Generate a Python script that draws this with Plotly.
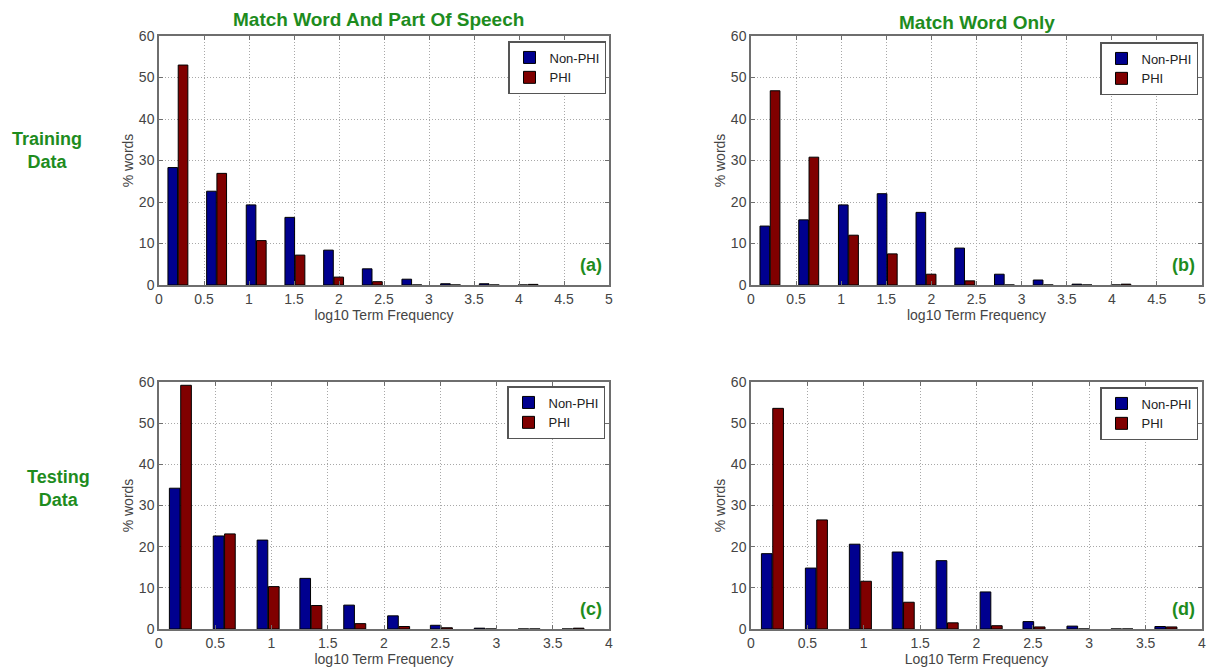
import plotly.graph_objects as go

# ---------------- data ----------------
# bin centres (log10 term frequency)
bins_train = [0.21, 0.64, 1.08, 1.51, 1.94, 2.37, 2.81, 3.24, 3.67, 4.10]
bins_test = [0.19, 0.58, 0.97, 1.35, 1.74, 2.13, 2.51, 2.90, 3.29, 3.68]

# (a) Training, match word and part of speech
a_nonphi = [28.3, 22.6, 19.3, 16.3, 8.4, 3.9, 1.4, 0.3, 0.3, 0.0]
a_phi = [53.0, 26.9, 10.7, 7.2, 1.9, 0.8, 0.0, 0.0, 0.0, 0.15]
# (b) Training, match word only
b_nonphi = [14.2, 15.7, 19.3, 22.0, 17.5, 8.9, 2.6, 1.2, 0.2, 0.0]
b_phi = [46.8, 30.8, 12.0, 7.5, 2.6, 1.0, 0.0, 0.0, 0.0, 0.2]
# (c) Testing, match word and part of speech
c_nonphi = [34.2, 22.6, 21.6, 12.3, 5.8, 3.2, 0.9, 0.2, 0.0, 0.0]
c_phi = [59.2, 23.1, 10.3, 5.7, 1.3, 0.6, 0.3, 0.0, 0.0, 0.2]
# (d) Testing, match word only
d_nonphi = [18.3, 14.8, 20.6, 18.7, 16.6, 9.0, 1.8, 0.7, 0.0, 0.6]
d_phi = [53.6, 26.5, 11.6, 6.5, 1.5, 0.8, 0.5, 0.0, 0.0, 0.5]

series_names = ["Non-PHI", "PHI"]
col_titles = ["Match Word And Part Of Speech", "Match Word Only"]
row_titles = ["Training<br>Data", "Testing<br>Data"]
panel_tags = ["(a)", "(b)", "(c)", "(d)"]
x_titles = ["log10 Term Frequency", "log10 Term Frequency",
            "log10 Term Frequency", "Log10 Term Frequency"]
y_title = "% words"
x_max = [5, 5, 4, 4]
y_ticks = [0, 10, 20, 30, 40, 50, 60]

# ---------------- styling ----------------
W, H = 1209, 670
BLUE = "#00008F"
RED = "#800000"
GREEN = "#1E8C1E"
AXC = "#6e6e6e"
TXT = "#444444"
FONT = "Liberation Sans, Arial, sans-serif"

def px_x(p):
    return p / W

def px_y(p):
    return 1 - p / H

# plot area pixel boxes: (left, right, top, bottom)
boxes = [(159, 609, 36, 285), (751, 1202, 36, 285),
         (159, 609, 382, 629), (751, 1202, 382, 629)]
legend_boxes = [(606, 41), (1198, 42), (605, 386), (1198, 387)]

panels = [
    (bins_train, a_nonphi, a_phi),
    (bins_train, b_nonphi, b_phi),
    (bins_test, c_nonphi, c_phi),
    (bins_test, d_nonphi, d_phi),
]

fig = go.Figure()
layout = dict(
    width=W, height=H,
    margin=dict(l=0, r=0, t=0, b=0),
    paper_bgcolor="white", plot_bgcolor="white",
    barmode="group", bargap=0.47, bargroupgap=0.06,
    font=dict(family=FONT, color=TXT, size=13),
)

annotations = []
for i, (bins, nonphi, phi) in enumerate(panels):
    k = "" if i == 0 else str(i + 1)
    xa, ya = "x" + k, "y" + k
    leg = "legend" + k
    fig.add_trace(go.Bar(x=bins, y=nonphi, name=series_names[0], xaxis=xa, yaxis=ya,
                         marker=dict(color=BLUE, line=dict(color="black", width=1)),
                         legend=leg))
    fig.add_trace(go.Bar(x=bins, y=phi, name=series_names[1], xaxis=xa, yaxis=ya,
                         marker=dict(color=RED, line=dict(color="black", width=1)),
                         legend=leg))
    l, r, t, b = boxes[i]
    common = dict(showline=True, linecolor=AXC, linewidth=1.5, mirror="ticks",
                  ticks="inside", ticklen=4, tickcolor=AXC, automargin=False,
                  showgrid=True, gridcolor="#a8a8a8", griddash="1px,2px", gridwidth=1,
                  zeroline=False, tickfont=dict(size=14, color=TXT, family=FONT))
    layout["xaxis" + k] = dict(domain=[px_x(l), px_x(r)], anchor=ya,
                               range=[0, x_max[i]], dtick=0.5, tick0=0,
                               title=dict(text=x_titles[i], standoff=2,
                                          font=dict(size=14, color=TXT)),
                               **common)
    layout["yaxis" + k] = dict(domain=[px_y(b), px_y(t)], anchor=xa,
                               range=[0, 60], tickvals=y_ticks,
                               title=dict(text=y_title, standoff=2,
                                          font=dict(size=14, color=TXT)),
                               **common)
    lx, ly = legend_boxes[i]
    layout[leg] = dict(x=px_x(lx), y=px_y(ly), xanchor="right", yanchor="top",
                       bgcolor="white", bordercolor="#555555", borderwidth=1.5,
                       font=dict(size=13, color="#222222", family=FONT),
                       tracegroupgap=0, itemwidth=30)
    annotations.append(dict(xref="paper", yref="paper", x=px_x(r - 5), y=px_y(b - 8),
                            xanchor="right", yanchor="bottom", showarrow=False,
                            text="<b>%s</b>" % panel_tags[i],
                            font=dict(size=18, color=GREEN, family=FONT)))

annotations.append(dict(xref="paper", yref="paper", x=px_x(378), y=px_y(19),
                        xanchor="center", yanchor="middle", showarrow=False,
                        text="<b>%s</b>" % col_titles[0],
                        font=dict(size=19, color=GREEN, family=FONT)))
annotations.append(dict(xref="paper", yref="paper", x=px_x(977), y=px_y(22),
                        xanchor="center", yanchor="middle", showarrow=False,
                        text="<b>%s</b>" % col_titles[1],
                        font=dict(size=19, color=GREEN, family=FONT)))
annotations.append(dict(xref="paper", yref="paper", x=px_x(47), y=px_y(150),
                        xanchor="center", yanchor="middle", showarrow=False,
                        text="<b>%s</b>" % row_titles[0],
                        font=dict(size=18, color=GREEN, family=FONT)))
annotations.append(dict(xref="paper", yref="paper", x=px_x(58), y=px_y(488),
                        xanchor="center", yanchor="middle", showarrow=False,
                        text="<b>%s</b>" % row_titles[1],
                        font=dict(size=18, color=GREEN, family=FONT)))
layout["annotations"] = annotations

fig.update_layout(**layout)
fig.write_html(
    "out.html",
    config={"displayModeBar": False},
    post_script="document.body.style.margin='0';document.body.style.overflow='hidden';",
)
